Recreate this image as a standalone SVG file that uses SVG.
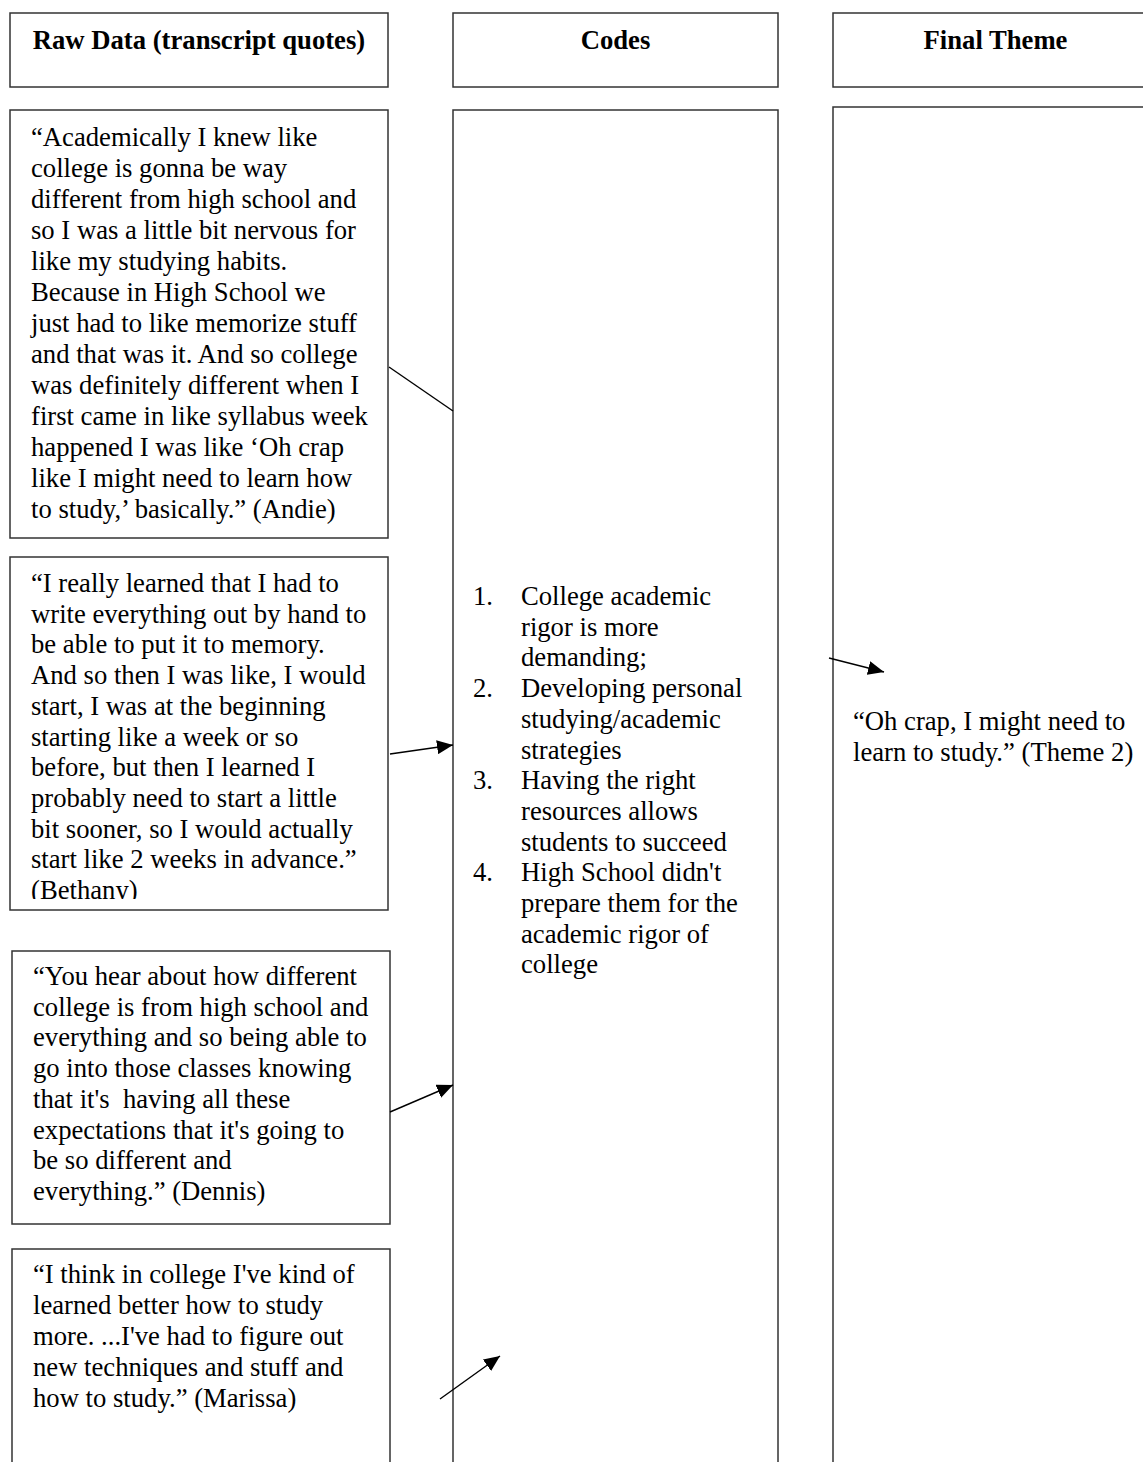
<svg xmlns="http://www.w3.org/2000/svg" width="1143" height="1462" viewBox="0 0 1143 1462">
<style>
.box{fill:#fff;stroke:#333;stroke-width:1.5}
.hd{font-family:"Liberation Serif","Times New Roman",serif;font-size:26.67px;font-weight:bold;fill:#000;text-anchor:middle}
.t{font-family:"Liberation Serif","Times New Roman",serif;font-size:26.67px;fill:#000}
.c{stroke:#000;stroke-width:1.4;fill:none}
</style>
<defs>
<marker id="ah" markerUnits="userSpaceOnUse" markerWidth="17" markerHeight="14" refX="16" refY="7" orient="auto">
<path d="M0,0 L16,7 L0,14 z" fill="#000"/>
</marker>
<clipPath id="clipB"><rect x="10" y="557" width="378" height="342"/></clipPath>
</defs>
<rect width="1143" height="1462" fill="#fff"/>

<g id="header-raw">
<rect class="box" x="10" y="13" width="378" height="74"/>
<text class="hd" x="199" y="49">Raw Data (transcript quotes)</text>
</g>
<g id="header-codes">
<rect class="box" x="453" y="13" width="325" height="74"/>
<text class="hd" x="615.5" y="49">Codes</text>
</g>
<g id="header-theme">
<rect class="box" x="833" y="13" width="325" height="74"/>
<text class="hd" x="995.5" y="49">Final Theme</text>
</g>

<g id="codes">
<rect class="box" x="453" y="110" width="325" height="1370"/>
<text class="t">
<tspan x="473" y="605">1.</tspan><tspan x="521" y="605">College academic</tspan>
<tspan x="521" y="635.7">rigor is more</tspan>
<tspan x="521" y="666.4">demanding;</tspan>
<tspan x="473" y="697.1">2.</tspan><tspan x="521" y="697.1">Developing personal</tspan>
<tspan x="521" y="727.8">studying/academic</tspan>
<tspan x="521" y="758.5">strategies</tspan>
<tspan x="473" y="789.2">3.</tspan><tspan x="521" y="789.2">Having the right</tspan>
<tspan x="521" y="819.9">resources allows</tspan>
<tspan x="521" y="850.6">students to succeed</tspan>
<tspan x="473" y="881.3">4.</tspan><tspan x="521" y="881.3">High School didn't</tspan>
<tspan x="521" y="912">prepare them for the</tspan>
<tspan x="521" y="942.7">academic rigor of</tspan>
<tspan x="521" y="973.4">college</tspan>
</text>
</g>

<g id="theme">
<rect class="box" x="833" y="107" width="325" height="1370"/>
<text class="t">
<tspan x="853" y="730">“Oh crap, I might need to</tspan>
<tspan x="853" y="761">learn to study.” (Theme 2)</tspan>
</text>
</g>

<g id="quote-andie">
<rect class="box" x="10" y="110" width="378" height="428"/>
<text class="t">
<tspan x="31" y="146">“Academically I knew like</tspan>
<tspan x="31" y="177">college is gonna be way</tspan>
<tspan x="31" y="208">different from high school and</tspan>
<tspan x="31" y="239">so I was a little bit nervous for</tspan>
<tspan x="31" y="270">like my studying habits.</tspan>
<tspan x="31" y="301">Because in High School we</tspan>
<tspan x="31" y="332">just had to like memorize stuff</tspan>
<tspan x="31" y="363">and that was it. And so college</tspan>
<tspan x="31" y="394">was definitely different when I</tspan>
<tspan x="31" y="425">first came in like syllabus week</tspan>
<tspan x="31" y="456">happened I was like ‘Oh crap</tspan>
<tspan x="31" y="487">like I might need to learn how</tspan>
<tspan x="31" y="518">to study,’ basically.” (Andie)</tspan>
</text>
</g>

<g id="quote-bethany">
<rect class="box" x="10" y="557" width="378" height="353"/>
<text class="t" clip-path="url(#clipB)">
<tspan x="31" y="592">“I really learned that I had to</tspan>
<tspan x="31" y="622.7">write everything out by hand to</tspan>
<tspan x="31" y="653.4">be able to put it to memory.</tspan>
<tspan x="31" y="684.1">And so then I was like, I would</tspan>
<tspan x="31" y="714.8">start, I was at the beginning</tspan>
<tspan x="31" y="745.5">starting like a week or so</tspan>
<tspan x="31" y="776.2">before, but then I learned I</tspan>
<tspan x="31" y="806.9">probably need to start a little</tspan>
<tspan x="31" y="837.6">bit sooner, so I would actually</tspan>
<tspan x="31" y="868.3">start like 2 weeks in advance.”</tspan>
<tspan x="31" y="899">(Bethany)</tspan>
</text>
</g>

<g id="quote-dennis">
<rect class="box" x="12" y="951" width="378" height="273"/>
<text class="t">
<tspan x="33" y="985">“You hear about how different</tspan>
<tspan x="33" y="1015.7">college is from high school and</tspan>
<tspan x="33" y="1046.4">everything and so being able to</tspan>
<tspan x="33" y="1077.1">go into those classes knowing</tspan>
<tspan x="33" y="1107.8" xml:space="preserve">that it's  having all these</tspan>
<tspan x="33" y="1138.5">expectations that it's going to</tspan>
<tspan x="33" y="1169.2">be so different and</tspan>
<tspan x="33" y="1199.9">everything.” (Dennis)</tspan>
</text>
</g>

<g id="quote-marissa">
<rect class="box" x="12" y="1249" width="378" height="260"/>
<text class="t">
<tspan x="33" y="1283">“I think in college I've kind of</tspan>
<tspan x="33" y="1314">learned better how to study</tspan>
<tspan x="33" y="1345">more. ...I've had to figure out</tspan>
<tspan x="33" y="1376">new techniques and stuff and</tspan>
<tspan x="33" y="1407">how to study.” (Marissa)</tspan>
</text>
</g>

<g id="connectors">
<line class="c" x1="389" y1="367" x2="453" y2="411"/>
<line class="c" x1="390" y1="754" x2="453" y2="745" marker-end="url(#ah)"/>
<line class="c" x1="390" y1="1112" x2="453" y2="1085" marker-end="url(#ah)"/>
<line class="c" x1="440" y1="1399" x2="500" y2="1356" marker-end="url(#ah)"/>
<line class="c" x1="829" y1="658" x2="884" y2="672" marker-end="url(#ah)"/>
</g>
</svg>
